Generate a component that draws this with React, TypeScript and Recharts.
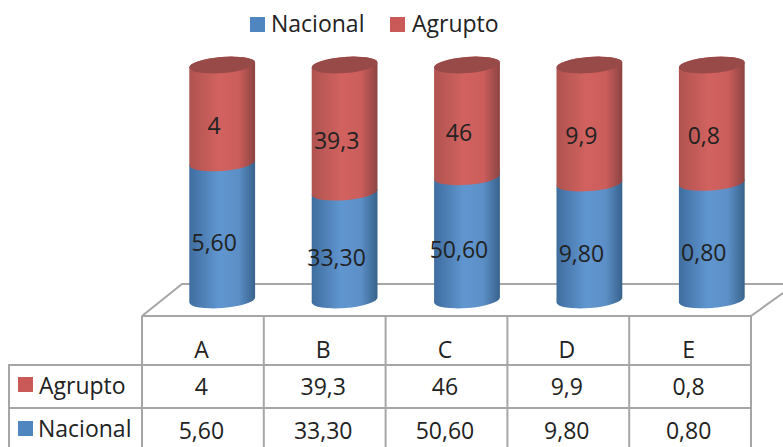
import React from 'react';
import { BarChart, Bar, XAxis, YAxis, LabelList, Customized } from 'recharts';

const categories = ['A', 'B', 'C', 'D', 'E'];
const nacional = [5.6, 33.3, 50.6, 9.8, 0.8];
const agrupto = [4, 39.3, 46, 9.9, 0.8];

const data = categories.map((name, i) => ({ name, Nacional: nacional[i], Agrupto: agrupto[i] }));

const FONT = '"Open Sans", sans-serif';
const TEXT = '#222222';
const GRID = '#a6a6a6';
const BLUE = '#4f86c0';
const RED = '#c95a58';

const fmtNacional = (v: number) => v.toFixed(2).replace('.', ',');
const fmtAgrupto = (v: number) => String(v).replace('.', ',');

// cylinder ends are slightly tilted ellipses, like the old Excel 3D look
const TILT = 4.5;
const RY = 8;
const tiltRad = (TILT * Math.PI) / 180;

const Cylinder = ({ x, y, width, height, fill, cap }: any) => {
  const rx = width / 2;
  const cx = x + rx;
  const dx = rx * Math.cos(tiltRad);
  const dy = rx * Math.sin(tiltRad);
  const bottom = y + height;
  const body =
    `M${cx - dx},${y + dy} L${cx - dx},${bottom + dy} ` +
    `A${rx},${RY} ${-TILT} 0 0 ${cx + dx},${bottom - dy} ` +
    `L${cx + dx},${y - dy} A${rx},${RY} ${-TILT} 0 0 ${cx - dx},${y + dy} Z`;
  return (
    <g>
      <path d={body} fill={fill} />
      {cap && <ellipse cx={cx} cy={y} rx={rx} ry={RY} fill={cap} transform={`rotate(${-TILT} ${cx} ${y})`} />}
    </g>
  );
};

const SegmentLabel = (fmt: (v: number) => string) => ({ x, y, width, height, value }: any) => (
  <text
    x={x + width / 2 - 8}
    y={y + height / 2 + 11}
    textAnchor="middle"
    dominantBaseline="central"
    fontFamily={FONT}
    fontSize={23}
    fill={TEXT}
  >
    {fmt(value)}
  </text>
);

// floor of the 3D plot and the row header of the data table
const TableFrame = () => (
  <g>
    <g stroke={GRID} strokeWidth={2} fill="none">
      <path d="M142,316 L182,284 L783,284" />
      <path d="M751,316 L783,293" />
      <path d="M142,316 L751,316 L751,447" />
      <path d="M142,316 L142,447" />
      <path d="M9,447 L9,365 L751,365" />
      <path d="M9,408 L751,408" />
    </g>
    <rect x={18} y={377} width={15} height={15} fill={RED} />
    <text x={39} y={385} dominantBaseline="central" fontFamily={FONT} fontSize={23} fill={TEXT}>
      Agrupto
    </text>
    <rect x={18} y={421} width={15} height={15} fill={BLUE} />
    <text x={38} y={428} dominantBaseline="central" fontFamily={FONT} fontSize={23} fill={TEXT}>
      Nacional
    </text>
  </g>
);

const TableTick = ({ x, payload }: any) => {
  const i = payload.index;
  const cell = { x: x - 1.5, textAnchor: 'middle', dominantBaseline: 'central', fontFamily: FONT, fontSize: 23, fill: TEXT } as any;
  return (
    <g>
      <line x1={x + 60.9} x2={x + 60.9} y1={316} y2={447} stroke={GRID} strokeWidth={2} />
      <text {...cell} y={349}>{categories[i]}</text>
      <text {...cell} y={386}>{fmtAgrupto(agrupto[i])}</text>
      <text {...cell} y={430}>{fmtNacional(nacional[i])}</text>
    </g>
  );
};

const legendText = { fontFamily: FONT, fontSize: 23, color: TEXT, lineHeight: '30px' };
const swatch = { position: 'absolute', top: 17, width: 15, height: 15 } as any;

const App = () => (
  <div style={{ position: 'absolute', left: 0, top: 0, width: 783, height: 447, overflow: 'hidden', background: '#fff' }}>
    <div style={{ ...swatch, left: 250, background: BLUE }} />
    <div style={{ ...legendText, position: 'absolute', left: 271, top: 8 }}>Nacional</div>
    <div style={{ ...swatch, left: 390, background: RED }} />
    <div style={{ ...legendText, position: 'absolute', left: 412, top: 8 }}>Agrupto</div>
    <BarChart
      width={783}
      height={447}
      data={data}
      stackOffset="expand"
      barSize={66}
      margin={{ top: 65, right: 9.8, bottom: 146, left: 142 }}
    >
      <defs>
        <linearGradient id="blueCyl" x1="0" y1="0" x2="1" y2="0">
          <stop offset="0%" stopColor="#3f6d9f" />
          <stop offset="45%" stopColor="#6096d0" />
          <stop offset="75%" stopColor="#5c8fc6" />
          <stop offset="100%" stopColor="#37628c" />
        </linearGradient>
        <linearGradient id="redCyl" x1="0" y1="0" x2="1" y2="0">
          <stop offset="0%" stopColor="#b05350" />
          <stop offset="45%" stopColor="#d1625f" />
          <stop offset="75%" stopColor="#cb5d5b" />
          <stop offset="100%" stopColor="#8c4442" />
        </linearGradient>
      </defs>
      <Customized component={TableFrame} />
      <XAxis xAxisId="bars" dataKey="name" hide padding={{ left: 19.2, right: 0 }} />
      <XAxis
        xAxisId="table"
        dataKey="name"
        height={1}
        padding={{ left: 0, right: 22.2 }}
        axisLine={false}
        tickLine={false}
        interval={0}
        tick={<TableTick />}
      />
      <YAxis hide domain={[0, 1]} />
      <Bar
        xAxisId="bars"
        dataKey="Nacional"
        stackId="a"
        fill="url(#blueCyl)"
        shape={<Cylinder />}
        isAnimationActive={false}
      >
        <LabelList dataKey="Nacional" content={SegmentLabel(fmtNacional)} />
      </Bar>
      <Bar
        xAxisId="bars"
        dataKey="Agrupto"
        stackId="a"
        fill="url(#redCyl)"
        shape={<Cylinder cap="#974a48" />}
        isAnimationActive={false}
      >
        <LabelList dataKey="Agrupto" content={SegmentLabel(fmtAgrupto)} />
      </Bar>
    </BarChart>
  </div>
);

export default App;
